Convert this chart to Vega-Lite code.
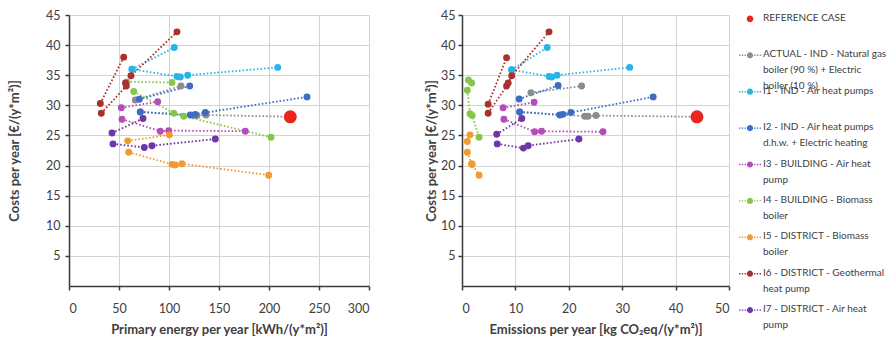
{
  "$schema": "https://vega.github.io/schema/vega-lite/v6.json",
  "padding": {"left": 8, "top": 9, "right": 0, "bottom": 0},
  "config": {
    "font": "Lato",
    "view": {"stroke": null},
    "axis": {
      "gridColor": "#d6d2d2", "gridWidth": 1,
      "domainColor": "#3a3a3a", "domainWidth": 1.5,
      "tickColor": "#3a3a3a", "tickSize": 4, "tickWidth": 1.5,
      "labelColor": "#404040", "labelFontSize": 12.5, "labelFont": "Lato",
      "titleColor": "#404040", "titleFontSize": 13, "titleFontWeight": "bold", "titleFont": "Lato"
    }
  },
  "datasets": {
    "pe": [
      {"s": "ACTUAL", "seg": "a1", "o": 1, "x": 66.3, "cost": 30.9},
      {"s": "ACTUAL", "seg": "a1", "o": 2, "x": 112, "cost": 33.2},
      {"s": "ACTUAL", "seg": "a2", "o": 1, "x": 71.3, "cost": 28.9},
      {"s": "ACTUAL", "seg": "a2", "o": 2, "x": 125, "cost": 28.3},
      {"s": "ACTUAL", "seg": "a2", "o": 3, "x": 128, "cost": 28.3},
      {"s": "ACTUAL", "seg": "a2", "o": 4, "x": 137, "cost": 28.4},
      {"s": "ACTUAL", "seg": "a2", "o": 5, "x": 221.3, "cost": 28.1},
      {"s": "I1", "seg": "c1", "o": 1, "x": 63, "cost": 36.0},
      {"s": "I1", "seg": "c1", "o": 2, "x": 105.3, "cost": 39.6},
      {"s": "I1", "seg": "c2", "o": 1, "x": 63, "cost": 36.0},
      {"s": "I1", "seg": "c2", "o": 2, "x": 108, "cost": 34.8},
      {"s": "I1", "seg": "c2", "o": 3, "x": 111.3, "cost": 34.7},
      {"s": "I1", "seg": "c2", "o": 4, "x": 118.7, "cost": 35.0},
      {"s": "I1", "seg": "c2", "o": 5, "x": 208.7, "cost": 36.3},
      {"s": "I2", "seg": "b1", "o": 1, "x": 70.3, "cost": 31.0},
      {"s": "I2", "seg": "b1", "o": 2, "x": 120.7, "cost": 33.2},
      {"s": "I2", "seg": "b2", "o": 1, "x": 71.3, "cost": 28.9},
      {"s": "I2", "seg": "b2", "o": 2, "x": 121.3, "cost": 28.4},
      {"s": "I2", "seg": "b2", "o": 3, "x": 126.3, "cost": 28.5},
      {"s": "I2", "seg": "b2", "o": 4, "x": 136.3, "cost": 28.8},
      {"s": "I2", "seg": "b2", "o": 5, "x": 238, "cost": 31.4},
      {"s": "I3", "seg": "m1", "o": 1, "x": 52.3, "cost": 29.6},
      {"s": "I3", "seg": "m1", "o": 2, "x": 88.7, "cost": 30.6},
      {"s": "I3", "seg": "m2", "o": 1, "x": 53, "cost": 27.7},
      {"s": "I3", "seg": "m2", "o": 2, "x": 91.3, "cost": 25.7},
      {"s": "I3", "seg": "m2", "o": 3, "x": 99.7, "cost": 25.8},
      {"s": "I3", "seg": "m2", "o": 4, "x": 176.3, "cost": 25.7},
      {"s": "I4", "seg": "g1", "o": 1, "x": 58, "cost": 33.9},
      {"s": "I4", "seg": "g1", "o": 2, "x": 103, "cost": 33.8},
      {"s": "I4", "seg": "g2", "o": 1, "x": 64.7, "cost": 32.3},
      {"s": "I4", "seg": "g2", "o": 2, "x": 104.7, "cost": 28.7},
      {"s": "I4", "seg": "g2", "o": 3, "x": 114.7, "cost": 28.2},
      {"s": "I4", "seg": "g2", "o": 4, "x": 202, "cost": 24.7},
      {"s": "I5", "seg": "f1", "o": 1, "x": 58.7, "cost": 24.1},
      {"s": "I5", "seg": "f1", "o": 2, "x": 100.3, "cost": 25.1},
      {"s": "I5", "seg": "f2", "o": 1, "x": 59.7, "cost": 22.2},
      {"s": "I5", "seg": "f2", "o": 2, "x": 103, "cost": 20.2},
      {"s": "I5", "seg": "f2", "o": 3, "x": 106.3, "cost": 20.1},
      {"s": "I5", "seg": "f2", "o": 4, "x": 113, "cost": 20.3},
      {"s": "I5", "seg": "f2", "o": 5, "x": 199.7, "cost": 18.4},
      {"s": "I6", "seg": "d1", "o": 1, "x": 31.3, "cost": 30.3},
      {"s": "I6", "seg": "d1", "o": 2, "x": 54.7, "cost": 38.0},
      {"s": "I6", "seg": "d2", "o": 1, "x": 32.3, "cost": 28.7},
      {"s": "I6", "seg": "d2", "o": 2, "x": 57.3, "cost": 33.2},
      {"s": "I6", "seg": "d2", "o": 3, "x": 56.5, "cost": 33.7},
      {"s": "I6", "seg": "d2", "o": 4, "x": 62, "cost": 34.9},
      {"s": "I6", "seg": "d2", "o": 5, "x": 108, "cost": 42.2},
      {"s": "I7", "seg": "v1", "o": 1, "x": 43, "cost": 25.4},
      {"s": "I7", "seg": "v1", "o": 2, "x": 74, "cost": 27.8},
      {"s": "I7", "seg": "v2", "o": 1, "x": 44, "cost": 23.6},
      {"s": "I7", "seg": "v2", "o": 2, "x": 75.3, "cost": 23.0},
      {"s": "I7", "seg": "v2", "o": 3, "x": 83, "cost": 23.3},
      {"s": "I7", "seg": "v2", "o": 4, "x": 146.3, "cost": 24.4},
      {"s": "REF", "seg": "r", "o": 1, "x": 221.3, "cost": 28.1}
    ],
    "em": [
      {"s": "ACTUAL", "seg": "a1", "o": 1, "x": 12.9, "cost": 32.1},
      {"s": "ACTUAL", "seg": "a1", "o": 2, "x": 22.4, "cost": 33.2},
      {"s": "ACTUAL", "seg": "a2", "o": 1, "x": 10.8, "cost": 28.9},
      {"s": "ACTUAL", "seg": "a2", "o": 2, "x": 23.0, "cost": 28.2},
      {"s": "ACTUAL", "seg": "a2", "o": 3, "x": 23.6, "cost": 28.2},
      {"s": "ACTUAL", "seg": "a2", "o": 4, "x": 25.1, "cost": 28.3},
      {"s": "ACTUAL", "seg": "a2", "o": 5, "x": 44.0, "cost": 28.1},
      {"s": "I1", "seg": "c1", "o": 1, "x": 9.3, "cost": 35.9},
      {"s": "I1", "seg": "c1", "o": 2, "x": 15.95, "cost": 39.6},
      {"s": "I1", "seg": "c2", "o": 1, "x": 9.3, "cost": 35.9},
      {"s": "I1", "seg": "c2", "o": 2, "x": 16.3, "cost": 34.8},
      {"s": "I1", "seg": "c2", "o": 3, "x": 16.8, "cost": 34.7},
      {"s": "I1", "seg": "c2", "o": 4, "x": 17.8, "cost": 35.0},
      {"s": "I1", "seg": "c2", "o": 5, "x": 31.4, "cost": 36.3},
      {"s": "I2", "seg": "b1", "o": 1, "x": 10.7, "cost": 31.05},
      {"s": "I2", "seg": "b1", "o": 2, "x": 18.0, "cost": 33.3},
      {"s": "I2", "seg": "b2", "o": 1, "x": 10.8, "cost": 28.9},
      {"s": "I2", "seg": "b2", "o": 2, "x": 18.3, "cost": 28.4},
      {"s": "I2", "seg": "b2", "o": 3, "x": 18.9, "cost": 28.5},
      {"s": "I2", "seg": "b2", "o": 4, "x": 20.4, "cost": 28.8},
      {"s": "I2", "seg": "b2", "o": 5, "x": 35.8, "cost": 31.4},
      {"s": "I3", "seg": "m1", "o": 1, "x": 7.7, "cost": 29.6},
      {"s": "I3", "seg": "m1", "o": 2, "x": 13.5, "cost": 30.5},
      {"s": "I3", "seg": "m2", "o": 1, "x": 7.85, "cost": 27.7},
      {"s": "I3", "seg": "m2", "o": 2, "x": 13.6, "cost": 25.6},
      {"s": "I3", "seg": "m2", "o": 3, "x": 14.9, "cost": 25.7},
      {"s": "I3", "seg": "m2", "o": 4, "x": 26.4, "cost": 25.6},
      {"s": "I4", "seg": "g1", "o": 1, "x": 1.2, "cost": 34.2},
      {"s": "I4", "seg": "g1", "o": 2, "x": 1.8, "cost": 33.7},
      {"s": "I4", "seg": "g2", "o": 1, "x": 1.0, "cost": 32.5},
      {"s": "I4", "seg": "g2", "o": 2, "x": 1.5, "cost": 28.6},
      {"s": "I4", "seg": "g2", "o": 3, "x": 1.9, "cost": 28.3},
      {"s": "I4", "seg": "g2", "o": 4, "x": 3.2, "cost": 24.7},
      {"s": "I5", "seg": "f1", "o": 1, "x": 1.0, "cost": 24.0},
      {"s": "I5", "seg": "f1", "o": 2, "x": 1.5, "cost": 25.1},
      {"s": "I5", "seg": "f2", "o": 1, "x": 1.0, "cost": 22.2},
      {"s": "I5", "seg": "f2", "o": 2, "x": 1.8, "cost": 20.3},
      {"s": "I5", "seg": "f2", "o": 3, "x": 1.85, "cost": 20.2},
      {"s": "I5", "seg": "f2", "o": 4, "x": 1.9, "cost": 20.2},
      {"s": "I5", "seg": "f2", "o": 5, "x": 3.2, "cost": 18.4},
      {"s": "I6", "seg": "d1", "o": 1, "x": 4.9, "cost": 30.2},
      {"s": "I6", "seg": "d1", "o": 2, "x": 8.35, "cost": 37.9},
      {"s": "I6", "seg": "d2", "o": 1, "x": 4.9, "cost": 28.7},
      {"s": "I6", "seg": "d2", "o": 2, "x": 8.35, "cost": 33.2},
      {"s": "I6", "seg": "d2", "o": 3, "x": 8.65, "cost": 33.7},
      {"s": "I6", "seg": "d2", "o": 4, "x": 9.3, "cost": 34.9},
      {"s": "I6", "seg": "d2", "o": 5, "x": 16.3, "cost": 42.2},
      {"s": "I7", "seg": "v1", "o": 1, "x": 6.5, "cost": 25.2},
      {"s": "I7", "seg": "v1", "o": 2, "x": 11.2, "cost": 27.8},
      {"s": "I7", "seg": "v2", "o": 1, "x": 6.6, "cost": 23.6},
      {"s": "I7", "seg": "v2", "o": 2, "x": 11.5, "cost": 22.9},
      {"s": "I7", "seg": "v2", "o": 3, "x": 12.4, "cost": 23.3},
      {"s": "I7", "seg": "v2", "o": 4, "x": 21.9, "cost": 24.4},
      {"s": "REF", "seg": "r", "o": 1, "x": 44.0, "cost": 28.1}
    ],
    "legend": [
      {"key": "REF", "label": "REFERENCE CASE"},
      {"key": "ACTUAL", "label": "ACTUAL - IND - Natural gas|boiler (90 %) + Electric|boiler (10 %)"},
      {"key": "I1", "label": "I1 - IND - Air heat pumps"},
      {"key": "I2", "label": "I2 - IND - Air heat pumps|d.h.w. + Electric heating"},
      {"key": "I3", "label": "I3 - BUILDING - Air heat|pump"},
      {"key": "I4", "label": "I4 - BUILDING - Biomass|boiler"},
      {"key": "I5", "label": "I5 - DISTRICT - Biomass|boiler"},
      {"key": "I6", "label": "I6 - DISTRICT - Geothermal|heat pump"},
      {"key": "I7", "label": "I7 - DISTRICT - Air heat|pump"}
    ]
  },
  "spacing": 9,
  "hconcat": [
    {
      "spacing": 55,
      "hconcat": [
        {
          "width": 300, "height": 271,
          "data": {"name": "pe"},
          "encoding": {
            "x": {"field": "x", "type": "quantitative",
              "scale": {"domain": [0, 300], "nice": false},
              "axis": {"values": [0, 50, 100, 150, 200, 250, 300], "title": "Primary energy per year [kWh/(y*m²)]", "labelPadding": 12, "titlePadding": 9}},
            "y": {"field": "cost", "type": "quantitative",
              "scale": {"domain": [0, 45], "nice": false},
              "axis": {"values": [5, 10, 15, 20, 25, 30, 35, 40, 45], "title": "Costs per year [€/(y*m²)]", "labelPadding": 5, "titlePadding": 24}},
            "color": {"field": "s", "type": "nominal", "legend": null,
              "scale": {"domain": ["REF", "ACTUAL", "I1", "I2", "I3", "I4", "I5", "I6", "I7"],
                "range": ["#e8251f", "#8c8c8c", "#2ab4e6", "#3c6cc4", "#b34db8", "#86c64c", "#f39a2f", "#a8312c", "#7035a8"]}}
          },
          "layer": [
            {"mark": {"type": "line", "strokeDash": [1.6, 2], "strokeWidth": 1.8},
             "encoding": {"detail": {"field": "seg"}, "order": {"field": "o"}}},
            {"mark": {"type": "point", "filled": true, "opacity": 1},
             "encoding": {"size": {"condition": {"test": "datum.s === 'REF'", "value": 170}, "value": 48}}}
          ]
        },
        {
          "width": 267, "height": 271,
          "data": {"name": "em"},
          "encoding": {
            "x": {"field": "x", "type": "quantitative",
              "scale": {"domain": [0, 50], "nice": false},
              "axis": {"values": [0, 10, 20, 30, 40, 50], "title": "Emissions per year [kg CO₂eq/(y*m²)]", "labelPadding": 12, "titlePadding": 9}},
            "y": {"field": "cost", "type": "quantitative",
              "scale": {"domain": [0, 45], "nice": false},
              "axis": {"values": [5, 10, 15, 20, 25, 30, 35, 40, 45], "title": "Costs per year [€/(y*m²)]", "labelPadding": 3, "titlePadding": 2}},
            "color": {"field": "s", "type": "nominal", "legend": null,
              "scale": {"domain": ["REF", "ACTUAL", "I1", "I2", "I3", "I4", "I5", "I6", "I7"],
                "range": ["#e8251f", "#8c8c8c", "#2ab4e6", "#3c6cc4", "#b34db8", "#86c64c", "#f39a2f", "#a8312c", "#7035a8"]}}
          },
          "layer": [
            {"mark": {"type": "line", "strokeDash": [1.6, 2], "strokeWidth": 1.8},
             "encoding": {"detail": {"field": "seg"}, "order": {"field": "o"}}},
            {"mark": {"type": "point", "filled": true, "opacity": 1},
             "encoding": {"size": {"condition": {"test": "datum.s === 'REF'", "value": 170}, "value": 48}}}
          ]
        }
      ]
    },
    {
      "width": 22, "height": 299,
      "data": {"name": "legend"},
      "encoding": {
        "y": {"field": "key", "type": "nominal", "sort": null, "scale": {"type": "point", "padding": 0.107}, "axis": null}
      },
      "layer": [
        {"mark": {"type": "point", "filled": true, "size": 484, "opacity": 1, "strokeWidth": 0},
         "encoding": {
           "color": {"field": "key", "type": "nominal", "legend": null,
             "scale": {"domain": ["REF", "ACTUAL", "I1", "I2", "I3", "I4", "I5", "I6", "I7"],
               "range": ["#e8251f", "#8c8c8c", "#2ab4e6", "#3c6cc4", "#b34db8", "#86c64c", "#f39a2f", "#a8312c", "#7035a8"]}},
           "shape": {"field": "key", "type": "nominal", "legend": null,
             "scale": {"domain": ["REF", "ACTUAL", "I1", "I2", "I3", "I4", "I5", "I6", "I7"],
               "range": [
                 "M0.3,0A0.3,0.3,0,1,1,-0.3,0A0.3,0.3,0,1,1,0.3,0Z",
                 "M-1,-0.065h0.13v0.13h-0.13zM-0.745,-0.065h0.13v0.13h-0.13zM-0.49,-0.065h0.13v0.13h-0.13zM0.36,-0.065h0.13v0.13h-0.13zM0.615,-0.065h0.13v0.13h-0.13zM0.87,-0.065h0.13v0.13h-0.13zM0.28,0A0.28,0.28,0,1,1,-0.28,0A0.28,0.28,0,1,1,0.28,0Z",
                 "M-1,-0.065h0.13v0.13h-0.13zM-0.745,-0.065h0.13v0.13h-0.13zM-0.49,-0.065h0.13v0.13h-0.13zM0.36,-0.065h0.13v0.13h-0.13zM0.615,-0.065h0.13v0.13h-0.13zM0.87,-0.065h0.13v0.13h-0.13zM0.28,0A0.28,0.28,0,1,1,-0.28,0A0.28,0.28,0,1,1,0.28,0Z",
                 "M-1,-0.065h0.13v0.13h-0.13zM-0.745,-0.065h0.13v0.13h-0.13zM-0.49,-0.065h0.13v0.13h-0.13zM0.36,-0.065h0.13v0.13h-0.13zM0.615,-0.065h0.13v0.13h-0.13zM0.87,-0.065h0.13v0.13h-0.13zM0.28,0A0.28,0.28,0,1,1,-0.28,0A0.28,0.28,0,1,1,0.28,0Z",
                 "M-1,-0.065h0.13v0.13h-0.13zM-0.745,-0.065h0.13v0.13h-0.13zM-0.49,-0.065h0.13v0.13h-0.13zM0.36,-0.065h0.13v0.13h-0.13zM0.615,-0.065h0.13v0.13h-0.13zM0.87,-0.065h0.13v0.13h-0.13zM0.28,0A0.28,0.28,0,1,1,-0.28,0A0.28,0.28,0,1,1,0.28,0Z",
                 "M-1,-0.065h0.13v0.13h-0.13zM-0.745,-0.065h0.13v0.13h-0.13zM-0.49,-0.065h0.13v0.13h-0.13zM0.36,-0.065h0.13v0.13h-0.13zM0.615,-0.065h0.13v0.13h-0.13zM0.87,-0.065h0.13v0.13h-0.13zM0.28,0A0.28,0.28,0,1,1,-0.28,0A0.28,0.28,0,1,1,0.28,0Z",
                 "M-1,-0.065h0.13v0.13h-0.13zM-0.745,-0.065h0.13v0.13h-0.13zM-0.49,-0.065h0.13v0.13h-0.13zM0.36,-0.065h0.13v0.13h-0.13zM0.615,-0.065h0.13v0.13h-0.13zM0.87,-0.065h0.13v0.13h-0.13zM0.28,0A0.28,0.28,0,1,1,-0.28,0A0.28,0.28,0,1,1,0.28,0Z",
                 "M-1,-0.065h0.13v0.13h-0.13zM-0.745,-0.065h0.13v0.13h-0.13zM-0.49,-0.065h0.13v0.13h-0.13zM0.36,-0.065h0.13v0.13h-0.13zM0.615,-0.065h0.13v0.13h-0.13zM0.87,-0.065h0.13v0.13h-0.13zM0.28,0A0.28,0.28,0,1,1,-0.28,0A0.28,0.28,0,1,1,0.28,0Z",
                 "M-1,-0.065h0.13v0.13h-0.13zM-0.745,-0.065h0.13v0.13h-0.13zM-0.49,-0.065h0.13v0.13h-0.13zM0.36,-0.065h0.13v0.13h-0.13zM0.615,-0.065h0.13v0.13h-0.13zM0.87,-0.065h0.13v0.13h-0.13zM0.28,0A0.28,0.28,0,1,1,-0.28,0A0.28,0.28,0,1,1,0.28,0Z"
               ]}}
         }},
        {"mark": {"type": "text", "align": "left", "baseline": "top", "dx": 13, "dy": -6, "lineBreak": "|", "lineHeight": 16, "fontSize": 10, "color": "#404040"},
         "encoding": {"text": {"field": "label"}}}
      ]
    }
  ]
}
